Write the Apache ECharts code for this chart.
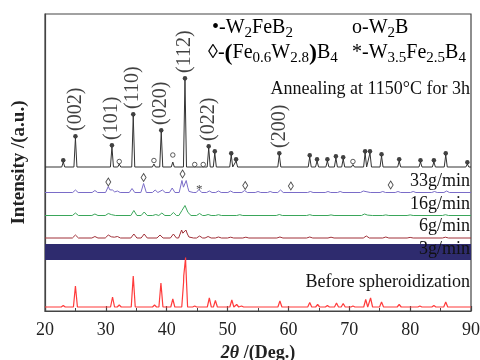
<!DOCTYPE html>
<html><head><meta charset="utf-8">
<script src="https://cdn.jsdelivr.net/npm/echarts@6/dist/echarts.min.js"></script>
<style>html,body{margin:0;padding:0;background:#fff}#c{width:480px;height:360px}</style>
</head><body><div id="c"></div>
<script>
// ---- data (2θ in degrees, intensity in arbitrary units above each pattern's baseline) ----
const xTicks = [20, 30, 40, 50, 60, 70, 80, 90];
// vertical offsets of each stacked pattern (a.u.)
const offsetAnnealed = 144, offset33 = 118.5, offset16 = 95.5, offset6 = 73, offsetBefore = 4;
const band3gRange = [51, 67];

const annealedPeaks = [[23.0,5],[25.0,29],[31.0,20],[32.2,3],[34.5,51],[37.9,3],[39.1,35],[41.0,5],[43.0,87],[44.6,1.5],[46.0,1.5],[46.9,19],[47.9,14],[50.6,12],[51.4,6],[58.5,12],[63.5,10],[64.7,6],[66.4,6],[67.8,9],[69.0,8],[70.6,2.5],[72.6,14],[73.4,14],[75.3,11],[78.2,6],[81.7,5],[83.9,5],[85.85,12],[89.4,3]];
const peaks33 = [[25.0,2.5],[28.2,2],[30.4,6],[31.1,2.5],[31.9,1.5],[34.3,4],[36.2,9],[38.1,2.5],[39.3,2.5],[40.9,4.5],[42.5,12],[43.2,12],[43.9,2.5],[45.3,3],[47.0,1.5],[48.5,1.5],[50.5,1.5],[52.8,2],[55.0,1],[57.0,1],[58.7,2.5],[63.6,1],[66.5,1],[68.5,1],[72.3,1.5],[73.0,2],[75.5,1],[78.0,1],[80.5,1],[84.0,1],[86.0,1.5]];
const peaks16 = [[25.0,2.5],[28.2,1.5],[30.4,2],[31.1,1.5],[34.6,5],[36.3,3.5],[38.2,1],[39.2,2.5],[41.1,3],[42.5,5],[43.0,10],[43.5,3],[45.4,2],[46.8,1],[48.5,0.8],[52.0,0.8],[58.5,1],[63.5,0.8],[67.0,0.6],[72.5,1.5],[73.3,1],[76.0,0.6],[80.0,0.6],[85.8,0.8]];
const peaks6 = [[25.0,3],[28.2,1.5],[30.4,3],[31.1,2],[31.9,1.5],[34.6,4],[36.3,4],[38.9,3],[41.1,4],[42.45,8],[43.15,8],[43.9,2],[45.4,2],[46.8,1.5],[48.5,1],[50.5,0.8],[53.0,0.8],[58.6,1],[63.5,1],[67.0,0.8],[72.8,2],[76.0,1],[80.0,0.6],[85.8,0.8]];
const peaksBefore = [[23.0,1.5],[25.0,21],[31.1,10],[32.2,2],[34.5,31],[38.0,2],[39.05,24],[41.0,8],[42.8,27],[43.1,47],[44.6,1],[47.0,9],[48.0,6.5],[50.7,7],[51.5,2.5],[52.3,1],[58.6,6],[63.5,4.5],[64.8,2.5],[66.4,1.5],[67.9,4],[69.0,3.5],[70.6,1],[72.7,7.5],[73.5,9],[75.3,5],[78.2,2.5],[81.6,1],[83.9,1.5],[85.85,5]];

// phase markers
const w2feb2Marks = [23.0,25.0,31.0,34.5,39.1,43.0,46.9,47.9,50.6,51.4,58.5,63.5,64.7,66.4,67.8,69.0,72.6,73.4,75.3,78.2,81.7,83.9,85.85,89.4];
const w2bMarks = [[32.2,5.5],[37.9,6.5],[41.0,12],[44.6,2.5],[46.0,2.5],[70.6,5.5]];
const feWBMarks = [[30.4,10.5],[36.2,15],[42.6,18.5],[52.9,7],[60.4,6.5],[76.8,7.5]];
const w35Marks = [[45.35,6]];
const millerLabels = [[25.0,'(002)'],[31.0,'(101)'],[34.5,'(110)'],[39.1,'(020)'],[43.0,'(112)'],[46.9,'(022)'],[58.5,'(200)']];
const seriesNames = ['33g/min','16g/min','6g/min','3g/min','Before spheroidization'];

// ---- build ----
const SERIF = "'Liberation Serif','Times New Roman',serif";
function profile(peaks, w, off) {
  const bp = new Set([20, 90]);
  peaks.forEach(([p]) => { [p - w, p, p + w].forEach(x => { if (x >= 20 && x <= 90) bp.add(+x.toFixed(4)); }); });
  const xs = Array.from(bp).sort((a, b) => a - b);
  return xs.map(x => {
    let y = 0;
    peaks.forEach(([p, h]) => { const d = Math.abs(x - p); if (d < w) y += h * (1 - d / w); });
    return [x, off + y];
  });
}
function peakHeight(peaks, pos) {
  const f = peaks.find(p => Math.abs(p[0] - pos) < 1e-6);
  return f ? f[1] : 0;
}
const dotData = w2feb2Marks.map(p => [p, offsetAnnealed + peakHeight(annealedPeaks, p) + 1.8]);
const millerData = millerLabels.map(([p, t]) => ({ value: [p, offsetAnnealed + peakHeight(annealedPeaks, p) + 1.8], name: t }));

function lineSeries(data, color, extra, width) {
  return Object.assign({ type: 'line', data, symbol: 'none', silent: true, lineStyle: { color, width: width || 1 }, z: 3 }, extra || {});
}

const chart = echarts.init(document.getElementById('c'), null, { renderer: 'canvas' });
const subRich = {
  n: { fontSize: 20, fontFamily: SERIF, color: '#111', lineHeight: 22, verticalAlign: 'top' },
  s: { fontSize: 15, fontFamily: SERIF, color: '#111', lineHeight: 15, verticalAlign: 'top', padding: [8, 0, 0, 0] },
  p: { fontSize: 24, fontFamily: SERIF, fontWeight: 'bold', color: '#111', lineHeight: 22, verticalAlign: 'top', padding: [-1, 0, 0, 0] }
};
function txt(x, y, text, opts) {
  return Object.assign({ type: 'text', x, y, z: 20, silent: true,
    style: Object.assign({ text, font: '18px ' + SERIF, fill: '#111', textAlign: 'right', textVerticalAlign: 'middle' }, opts || {}) });
}

chart.setOption({
  animation: false,
  grid: { left: 45, right: 9, top: 14, bottom: 49, show: true, borderColor: '#444', borderWidth: 1.2,
    backgroundColor: 'transparent', containLabel: false, outerBoundsMode: 'none' },
  xAxis: {
    type: 'value', min: xTicks[0], max: xTicks[xTicks.length - 1], interval: 10,
    axisLine: { lineStyle: { color: '#444', width: 1.2 } },
    axisTick: { inside: true, length: 5, lineStyle: { color: '#444', width: 1.2 } },
    minorTick: { show: true, splitNumber: 2, length: 3, lineStyle: { color: '#444', width: 1 } },
    splitLine: { show: false },
    axisLabel: { fontSize: 18, color: '#222', fontFamily: SERIF, margin: 10 },
    name: '{i|2θ} /(Deg.)', nameLocation: 'middle', nameGap: 33,
    nameTextStyle: { fontSize: 18, fontWeight: 'bold', fontFamily: SERIF, color: '#222',
      rich: { i: { fontSize: 18, fontWeight: 'bold', fontStyle: 'italic', fontFamily: SERIF, color: '#222' } } }
  },
  yAxis: {
    type: 'value', min: 0, max: 297,
    axisLine: { show: true, lineStyle: { color: '#444', width: 1.2 } },
    axisTick: { show: false }, axisLabel: { show: false }, splitLine: { show: false },
    name: 'Intensity /(a.u.)', nameLocation: 'middle', nameGap: 16,
    nameTextStyle: { fontSize: 19, fontWeight: 'bold', fontFamily: SERIF, color: '#222' }
  },
  series: [
    lineSeries(profile(annealedPeaks, 0.25, offsetAnnealed), '#333'),
    lineSeries(profile(peaks33, 0.45, offset33), '#7a6cc8'),
    lineSeries(profile(peaks16, 0.5, offset16), '#3aa65a'),
    lineSeries(profile(peaks6, 0.5, offset6), '#a03038'),
    lineSeries(profile(peaksBefore, 0.33, offsetBefore), '#ff3b3b', {
      z: 2,
      markArea: { silent: true, itemStyle: { color: '#2e2b6e', opacity: 1 },
        data: [[{ xAxis: 20, yAxis: band3gRange[0] }, { xAxis: 90, yAxis: band3gRange[1] }]] }
    }, 1.2),
    { type: 'scatter', silent: true, z: 5, data: dotData, symbol: 'circle', symbolSize: 4.5, itemStyle: { color: '#111' } },
    { type: 'scatter', silent: true, z: 5, data: w2bMarks.map(([p, h]) => [p, offsetAnnealed + h]), symbol: 'circle', symbolSize: 4.5,
      itemStyle: { color: '#fff', borderColor: '#222', borderWidth: 0.9 } },
    { type: 'scatter', silent: true, z: 5, data: feWBMarks.map(([p, h]) => [p, offset33 + h]), symbol: 'diamond', symbolSize: [5, 8],
      itemStyle: { color: '#fff', borderColor: '#222', borderWidth: 0.9 } },
    { type: 'scatter', silent: true, z: 5, data: w35Marks.map(([p, h]) => [p, offset33 + h]), symbol: 'circle', symbolSize: 1,
      itemStyle: { color: 'rgba(0,0,0,0)' },
      label: { show: true, position: 'inside', formatter: '*', fontSize: 13, color: '#111', fontFamily: SERIF, offset: [0, 3] } },
    { type: 'scatter', silent: true, z: 6, data: millerData, symbol: 'circle', symbolSize: 4.5, itemStyle: { color: 'rgba(0,0,0,0)' },
      label: { show: true, position: 'top', distance: 3, rotate: 90, align: 'left', verticalAlign: 'middle',
        formatter: p => p.name, fontSize: 20, color: '#111', fontFamily: SERIF } }
  ],
  graphic: [
    { type: 'text', x: 212, y: 18, z: 20, silent: true, style: { text: '{n|•-W}{s|2}{n|FeB}{s|2}', rich: subRich, textVerticalAlign: 'top' } },
    { type: 'text', x: 352, y: 18, z: 20, silent: true, style: { text: '{n|o-W}{s|2}{n|B}', rich: subRich, textVerticalAlign: 'top' } },
    { type: 'text', x: 208, y: 43, z: 20, silent: true, style: { text: '{n|◊-}{p|(}{n|Fe}{s|0.6}{n|W}{s|2.8}{p|)}{n|B}{s|4}', rich: subRich, textVerticalAlign: 'top' } },
    { type: 'text', x: 352, y: 43, z: 20, silent: true, style: { text: '{n|*-W}{s|3.5}{n|Fe}{s|2.5}{n|B}{s|4}', rich: subRich, textVerticalAlign: 'top' } },
    txt(470, 89, 'Annealing at 1150°C for 3h'),
    txt(470, 181, seriesNames[0]),
    txt(470, 204, seriesNames[1]),
    txt(470, 226, seriesNames[2]),
    txt(470, 249, seriesNames[3]),
    txt(470, 282, seriesNames[4])
  ]
});
</script></body></html>
